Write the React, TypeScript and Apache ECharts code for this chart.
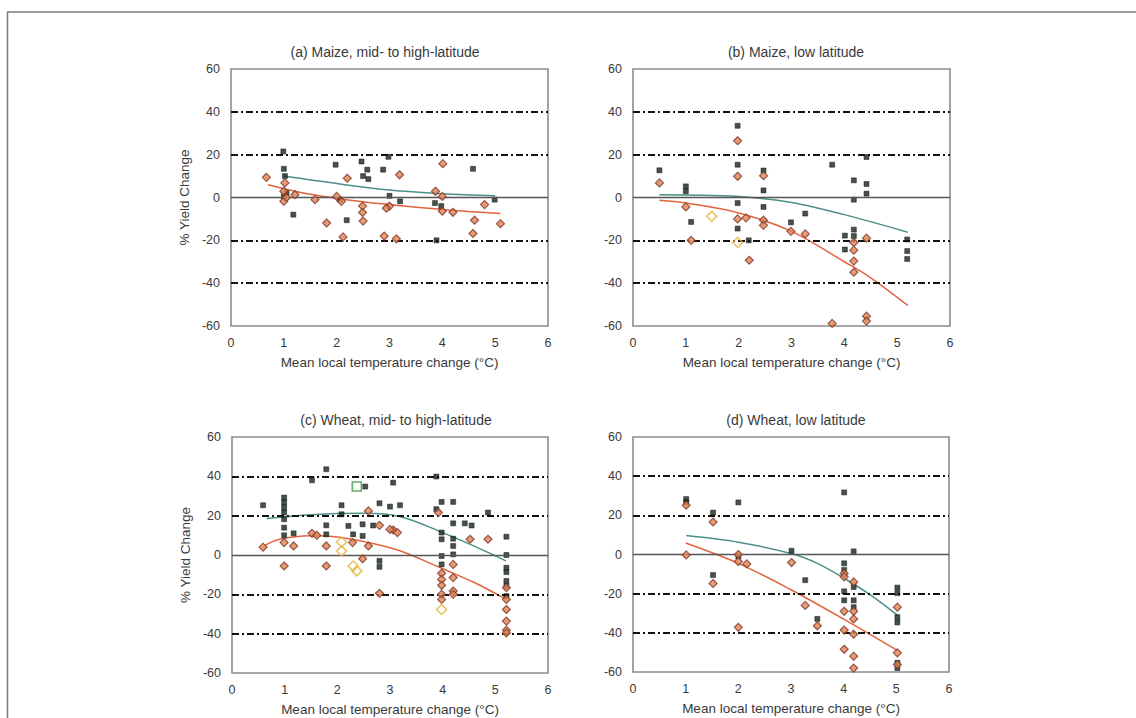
import React, { useEffect, useRef } from "react";
import * as echarts from "echarts";

// ---------- data ----------
const xTicks = [0, 1, 2, 3, 4, 5, 6];
const yTicks = [-60, -40, -20, 0, 20, 40, 60];
const refLevels = [40, 20, -20, -40];
const zeroLevel = [0];

const panelTitles = [
  "(a) Maize, mid- to high-latitude",
  "(b) Maize, low latitude",
  "(c) Wheat, mid- to high-latitude",
  "(d) Wheat, low latitude",
];
const xAxisTitle = "Mean local temperature change (°C)";
const yAxisTitle = "% Yield Change";

// (a) Maize, mid- to high-latitude
const aSquares = [
  [0.99, 21.5], [1.0, 13.4], [1.02, 10], [1.0, 0.5], [1.05, 2], [1.98, 15.3], [2.47, 16.8],
  [2.58, 13], [2.5, 10], [2.6, 8.6], [2.88, 13], [2.98, 19], [3.0, 0.8], [3.2, -1.8],
  [2.19, -10.6], [1.18, -8], [3.86, -2.6], [3.98, -4], [3.89, -20], [4.58, 13.4],
  [4.99, -1], [2.06, -1],
];
const aDiamonds = [
  [0.67, 9.4], [1.02, 6.8], [1.0, 2.9], [1.0, -1.8], [1.05, 0], [1.21, 1.3], [1.59, -1],
  [1.81, -11.9], [2.0, 0.5], [2.09, -1.8], [2.2, 9], [2.12, -18.4], [2.49, -4], [2.5, -11],
  [2.49, -7], [2.9, -18], [3.0, -4], [3.13, -19.3], [3.19, 10.6], [2.94, -5], [4.01, 15.8],
  [3.87, 2.9], [4.0, 0.5], [4.0, -6.4], [4.2, -6.9], [4.61, -10.6], [4.58, -16.8],
  [4.8, -3.3], [5.1, -12.2],
];
const aHighlights: number[][] = [];
const aSquareFit = [[1.0, 10], [2.0, 6.5], [3.0, 3.5], [4.0, 1.8], [5.0, 0.8]];
const aDiamondFit = [[0.7, 6], [1.5, 1.5], [2.5, -2], [3.5, -4.5], [4.5, -6.5], [5.1, -7.5]];

// (b) Maize, low latitude
const bSquares = [
  [0.5, 12.7], [1.0, 5.2], [1.0, 2.9], [1.1, -11.4], [1.98, 33.5], [1.98, 15.3], [1.98, -2.6],
  [1.98, -14.5], [2.19, -20], [2.47, 12.6], [2.47, 3.3], [2.47, -4.4], [3.26, -7.5],
  [2.99, -11.6], [3.77, 15.3], [4.01, -17.8], [4.01, -24.3], [4.18, 8], [4.18, -1],
  [4.18, -15], [4.18, -18], [4.42, 18.9], [4.42, 6.3], [4.42, 1.8], [5.19, -19.6],
  [5.19, -25], [5.19, -28.7],
];
const bDiamonds = [
  [0.5, 6.8], [1.0, -4.4], [1.1, -20], [1.98, 26.5], [1.98, 9.9], [1.98, -10], [2.14, -9.5],
  [2.2, -29.3], [2.47, 10.2], [2.47, -10.6], [2.47, -13], [2.99, -15.8], [3.26, -17],
  [4.42, -19], [4.18, -24.6], [4.18, -29.7], [4.18, -34.9], [4.18, -21], [4.42, -55.4],
  [4.42, -57.7], [3.77, -58.8],
];
const bHighlights = [[1.49, -8.8], [1.98, -21]];
const bSquareFit = [[0.5, 1.3], [1.0, 1.2], [2.0, 0.5], [3.0, -2.3], [4.0, -8], [5.2, -16.2]];
const bDiamondFit = [[0.5, -1.3], [1.0, -2.6], [2.0, -7.2], [3.0, -15.8], [4.0, -30], [4.5, -37.5], [5.2, -50.4]];

// (c) Wheat, mid- to high-latitude
const cSquares = [
  [0.59, 25.3], [0.99, 29.2], [0.99, 26.7], [0.99, 24.1], [0.99, 21.6], [0.99, 18.2],
  [0.99, 13.9], [0.99, 10], [1.17, 11], [1.52, 38], [1.79, 43.6], [1.79, 15.1], [1.79, 10.5],
  [2.08, 25.3], [2.08, 20.7], [2.21, 14.8], [2.3, 10.5], [2.48, 15.6], [2.48, 9.7],
  [2.53, 34.8], [2.8, 26.3], [2.8, -6], [2.8, -3], [3.0, 24.6], [3.06, 36.8], [3.19, 25.3],
  [2.68, 15], [3.88, 39.9], [3.98, 27], [4.2, 27], [3.88, 23.3], [3.98, 11.4], [3.98, 8],
  [3.98, -0.5], [3.98, -4.8], [4.2, 16.1], [4.2, 8.3], [4.2, 4.6], [4.2, 0.3], [4.42, 16.1],
  [4.55, 15], [4.86, 21.6], [5.21, 9.3], [5.21, 0], [5.21, -6.5], [5.21, -8.7],
  [5.21, -13.2], [5.21, -15.8], [5.21, -20.9],
];
const cDiamonds = [
  [0.59, 4], [0.99, -5.6], [0.99, 6.3], [1.17, 4.6], [1.52, 11], [1.61, 10], [1.79, 4.6],
  [1.79, -5.6], [2.29, 6.3], [2.48, -1.9], [2.59, 22.4], [2.59, 4.6], [2.8, 15.1],
  [2.8, -19.5], [3.06, 12.7], [3.14, 11.4], [3.0, 13], [3.92, 21.6], [3.98, -9.3],
  [3.98, -12.4], [3.98, -15.4], [3.98, -20], [3.98, -22.6], [4.2, -4.8], [4.2, -11.5],
  [4.2, -18.3], [4.2, -20], [4.52, 8], [4.86, 8], [5.21, -16.6], [5.21, -22.6],
  [5.21, -27.7], [5.21, -33.6], [5.21, -38.2], [5.21, -39.6],
];
const cHighlights = [[2.08, 6.6], [2.08, 2], [2.3, -5.6], [2.37, -8.1], [3.98, -27.7]];
const cOpenGreen = [[2.37, 34.8]];
const cSquareFit = [[0.66, 18.5], [1.5, 20.5], [2.5, 21.2], [3.2, 19.5], [4.0, 11.4], [4.6, 4.5], [5.2, -3]];
const cDiamondFit = [[0.6, 4.5], [0.9, 8], [1.5, 9.8], [2.0, 9.2], [2.6, 6.3], [3.2, 2], [4.0, -7], [4.6, -14], [5.21, -22.6]];

// (d) Wheat, low latitude
const dSquares = [
  [1.01, 28.3], [1.01, 26.6], [1.52, 21.4], [1.52, -10.5], [2.0, 26.6], [2.0, -1],
  [3.01, 1.9], [3.27, -13.1], [3.5, -32.9], [4.01, 31.7], [4.01, -4.5], [4.01, -7.9],
  [4.01, -18.8], [4.01, -23.4], [4.19, 1.6], [4.19, -16.6], [4.19, -23.4], [4.19, -26.9],
  [5.02, -16.9], [5.02, -19.7], [5.02, -32], [5.02, -34.7], [5.02, -55.3], [5.02, -58],
];
const dDiamonds = [
  [1.01, 25.2], [1.01, -0.2], [1.52, 16.6], [1.52, -14.8], [2.0, 0], [2.0, -3.6],
  [2.16, -4.8], [2.0, -37.2], [3.01, -4.1], [3.27, -26], [3.5, -36.4], [4.01, -9.7],
  [4.01, -11.4], [4.01, -29], [4.01, -38.6], [4.01, -48.4], [4.19, -14], [4.19, -29],
  [4.19, -32.9], [4.19, -40.7], [4.19, -51.9], [4.19, -58], [5.02, -26.9], [5.02, -50.2],
  [5.02, -56.2],
];
const dHighlights: number[][] = [];
const dSquareFit = [[1.01, 9.7], [2.0, 6.3], [3.0, 0.5], [3.5, -4.5], [4.0, -12], [4.5, -20.5], [5.02, -31]];
const dDiamondFit = [[1.0, 5.9], [2.0, -4.5], [3.0, -18], [4.0, -33], [5.02, -49]];

// ---------- layout ----------
const grids = [
  { left: 231, top: 69, width: 317, height: 257 },
  { left: 633, top: 69, width: 317, height: 257 },
  { left: 232, top: 437, width: 316, height: 236 },
  { left: 633, top: 437, width: 316, height: 235 },
];
const titlePos = [
  { x: 380, y: 40 },
  { x: 791, y: 40 },
  { x: 391, y: 408 },
  { x: 791, y: 408 },
];

const FONT = "Liberation Sans, Arial, sans-serif";
const TEXT = "#3a3a3a";
const SQUARE_COLOR = "#18251a";
const DIAMOND_FILL = "#e48253";
const DIAMOND_BORDER = "#7d3a2a";
const SQUARE_FIT = "#4b8f88";
const DIAMOND_FIT = "#e2643c";

const panels = [
  { sq: aSquares, di: aDiamonds, hi: aHighlights, sf: aSquareFit, df: aDiamondFit, og: [] as number[][] },
  { sq: bSquares, di: bDiamonds, hi: bHighlights, sf: bSquareFit, df: bDiamondFit, og: [] as number[][] },
  { sq: cSquares, di: cDiamonds, hi: cHighlights, sf: cSquareFit, df: cDiamondFit, og: cOpenGreen },
  { sq: dSquares, di: dDiamonds, hi: dHighlights, sf: dSquareFit, df: dDiamondFit, og: [] as number[][] },
];

function buildOption() {
  const series: any[] = [];
  panels.forEach((p, i) => {
    series.push({
      type: "line",
      xAxisIndex: i,
      yAxisIndex: i,
      data: [],
      silent: true,
      markLine: {
        silent: true,
        symbol: ["none", "none"],
        label: { show: false },
        data: [
          ...refLevels.map((v) => ({
            yAxis: v,
            lineStyle: { color: "#111", width: 2.2, type: [7, 3, 2, 3] },
          })),
          ...zeroLevel.map((v) => ({
            yAxis: v,
            lineStyle: { color: "#555", width: 1.4, type: "solid" },
          })),
        ],
      },
    });
    series.push({
      type: "line",
      xAxisIndex: i,
      yAxisIndex: i,
      data: p.sf,
      smooth: 0.35,
      showSymbol: false,
      lineStyle: { color: SQUARE_FIT, width: 1.5 },
      z: 3,
    });
    series.push({
      type: "line",
      xAxisIndex: i,
      yAxisIndex: i,
      data: p.df,
      smooth: 0.35,
      showSymbol: false,
      lineStyle: { color: DIAMOND_FIT, width: 1.5 },
      z: 3,
    });
    series.push({
      type: "scatter",
      xAxisIndex: i,
      yAxisIndex: i,
      data: p.sq,
      symbol: "rect",
      symbolSize: 5,
      itemStyle: { color: SQUARE_COLOR, borderColor: "#0d1a10", borderWidth: 0.6 },
      z: 4,
    });
    series.push({
      type: "scatter",
      xAxisIndex: i,
      yAxisIndex: i,
      data: p.di,
      symbol: "diamond",
      symbolSize: 8,
      itemStyle: { color: DIAMOND_FILL, borderColor: DIAMOND_BORDER, borderWidth: 1.2 },
      z: 5,
    });
    series.push({
      type: "scatter",
      xAxisIndex: i,
      yAxisIndex: i,
      data: p.hi,
      symbol: "diamond",
      symbolSize: 10,
      itemStyle: { color: "rgba(255,255,255,0)", borderColor: "#e6b43c", borderWidth: 1.6 },
      z: 6,
    });
    series.push({
      type: "scatter",
      xAxisIndex: i,
      yAxisIndex: i,
      data: p.og,
      symbol: "rect",
      symbolSize: 9,
      itemStyle: { color: "rgba(255,255,255,0)", borderColor: "#3f9a3f", borderWidth: 1.6 },
      z: 6,
    });
  });

  return {
    animation: false,
    backgroundColor: "#ffffff",
    textStyle: { fontFamily: FONT },
    title: panelTitles.map((t, i) => ({
      text: t,
      left: titlePos[i].x,
      top: titlePos[i].y,
      textAlign: "center",
      textStyle: { fontFamily: FONT, fontSize: 14, fontWeight: "normal", color: TEXT },
    })),
    grid: grids.map((g) => ({
      ...g,
      show: true,
      borderColor: "#8c8c8c",
      borderWidth: 1.6,
      backgroundColor: "#fff",
    })),
    xAxis: grids.map((_, i) => ({
      type: "value",
      gridIndex: i,
      min: xTicks[0],
      max: xTicks[xTicks.length - 1],
      interval: 1,
      name: xAxisTitle,
      nameLocation: "middle",
      nameGap: 29,
      nameTextStyle: { fontFamily: FONT, fontSize: 13.5, color: TEXT },
      axisLine: { show: false },
      axisTick: { show: false },
      splitLine: { show: false },
      axisLabel: { fontFamily: FONT, fontSize: 12.5, color: TEXT, margin: 10 },
    })),
    yAxis: grids.map((_, i) => ({
      type: "value",
      gridIndex: i,
      min: yTicks[0],
      max: yTicks[yTicks.length - 1],
      interval: 20,
      name: i % 2 === 0 ? yAxisTitle : "",
      nameLocation: "middle",
      nameGap: 40,
      nameTextStyle: { fontFamily: FONT, fontSize: 13.5, color: TEXT },
      axisLine: { show: false },
      axisTick: { show: false },
      splitLine: { show: false },
      axisLabel: { fontFamily: FONT, fontSize: 12.5, color: TEXT, margin: 11 },
    })),
    graphic: [
      { type: "line", shape: { x1: 7, y1: 12, x2: 1136, y2: 12 }, style: { stroke: "#7a7a7a", lineWidth: 1.5 }, silent: true },
      { type: "line", shape: { x1: 7.5, y1: 12, x2: 7.5, y2: 718 }, style: { stroke: "#7a7a7a", lineWidth: 1.5 }, silent: true },
    ],
    series,
  };
}

export default function App() {
  const ref = useRef<HTMLDivElement>(null);
  useEffect(() => {
    if (!ref.current) return;
    const chart = echarts.init(ref.current, undefined, { renderer: "svg" });
    chart.setOption(buildOption() as any);
    return () => chart.dispose();
  }, []);
  return (
    <div
      ref={ref}
      style={{ position: "fixed", left: 0, top: 0, width: 1136, height: 718, background: "#fff" }}
    />
  );
}
